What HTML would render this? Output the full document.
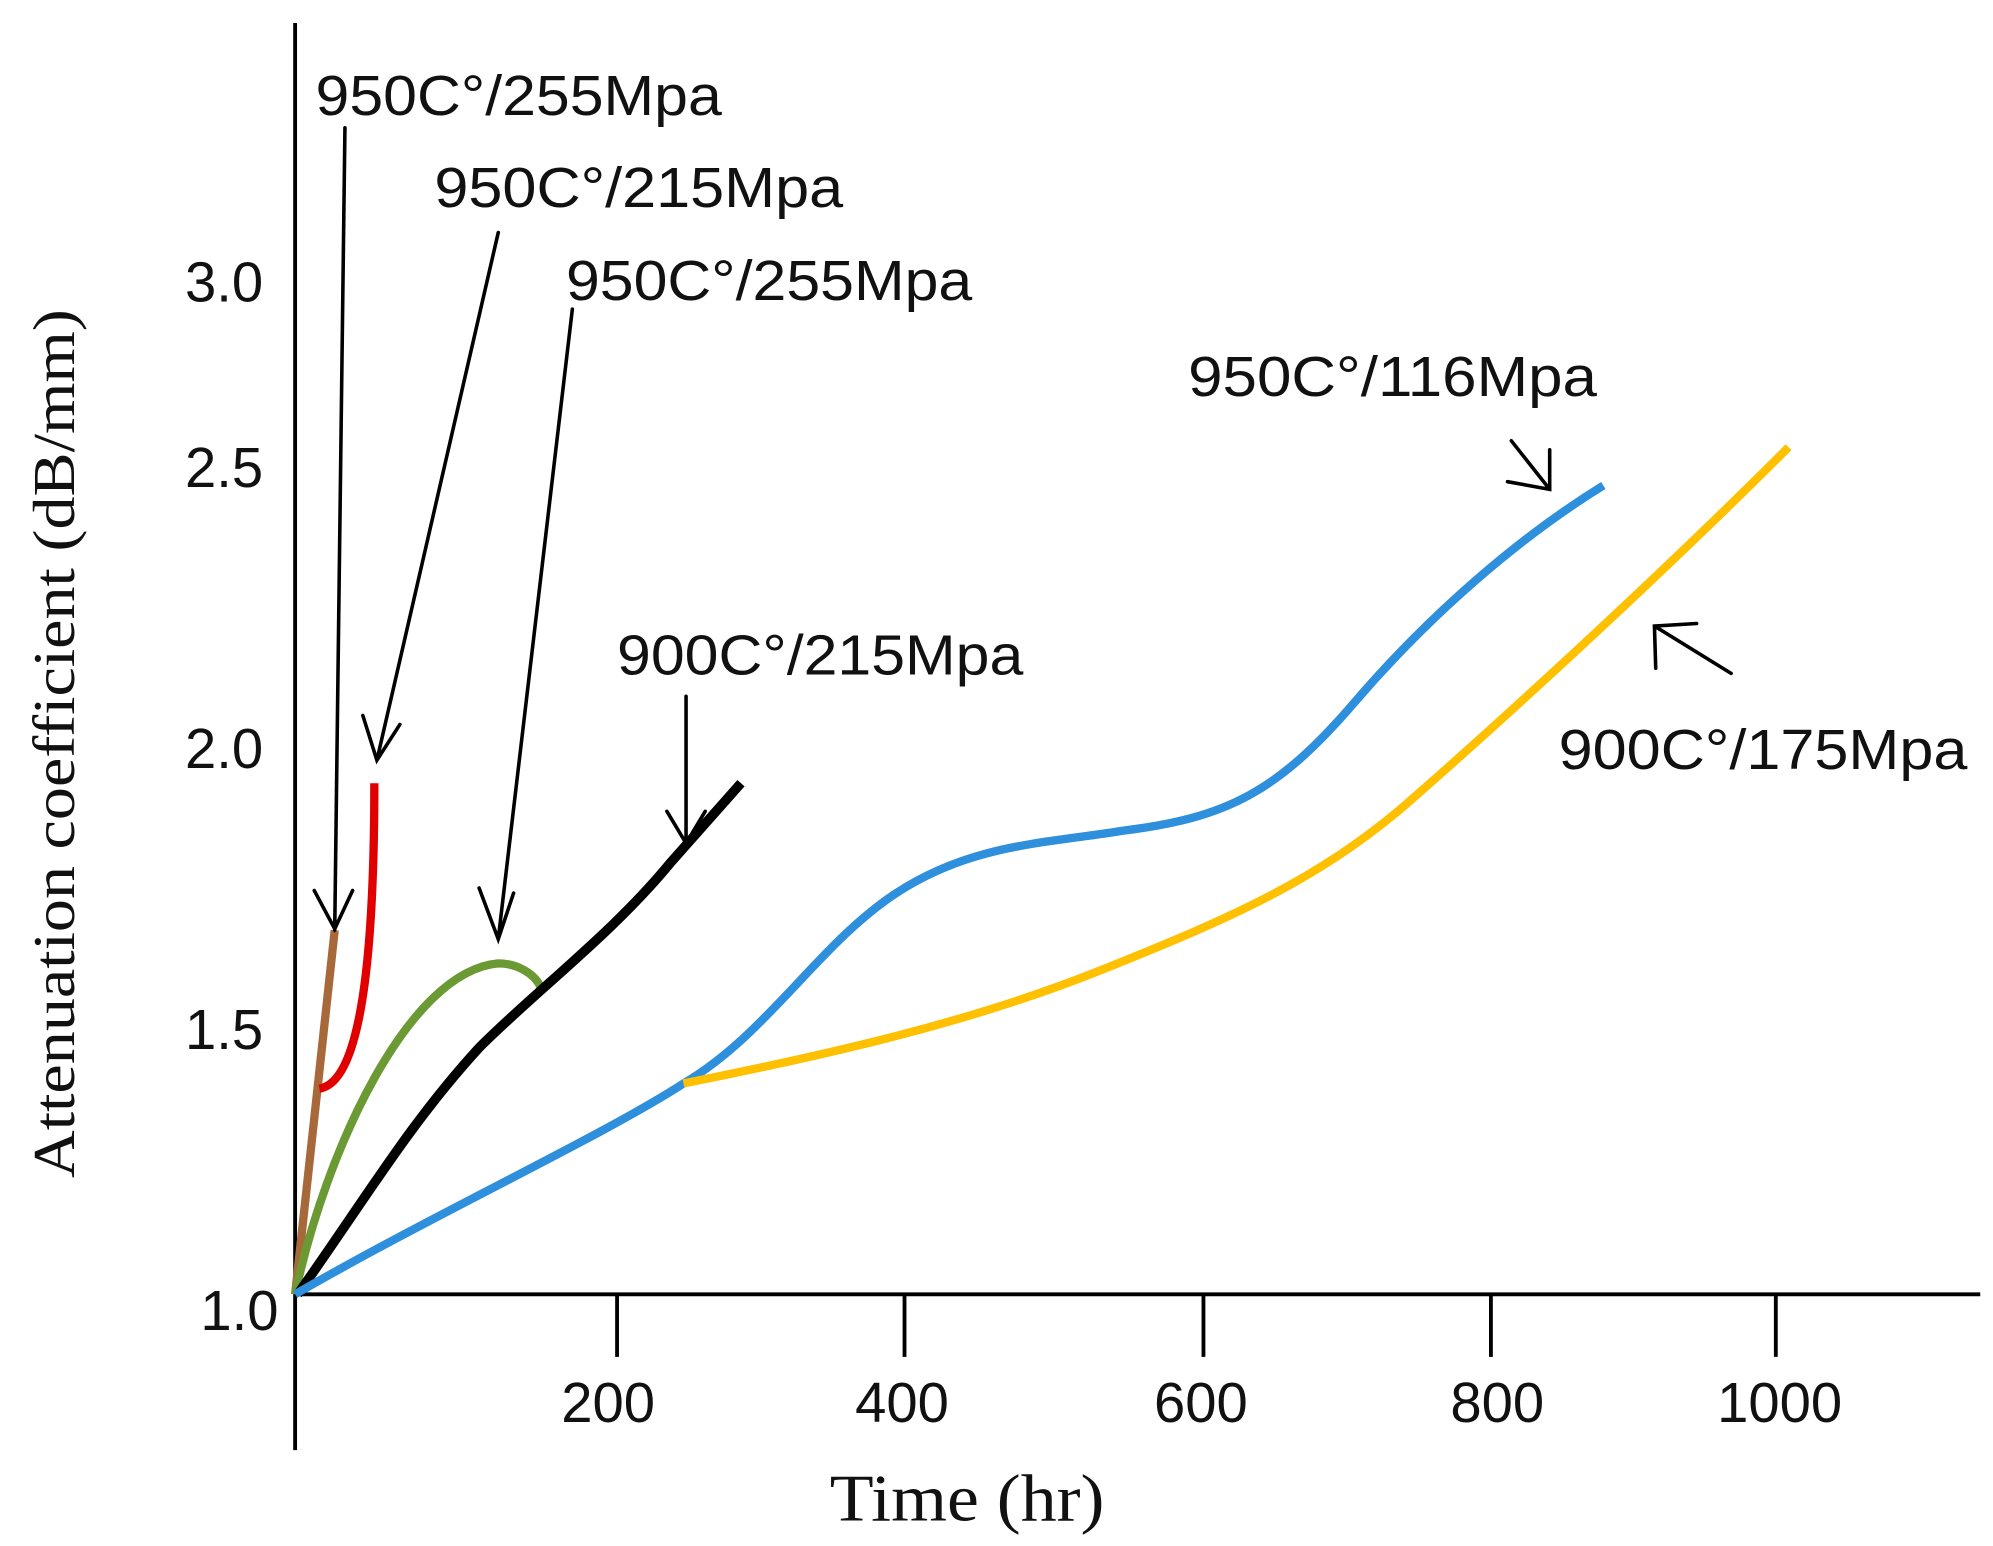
<!DOCTYPE html>
<html><head><meta charset="utf-8"><style>
html,body{margin:0;padding:0;background:#fff;}
svg{display:block;}
.l{font-family:"Liberation Sans",sans-serif;font-size:44px;fill:#111;}
.t{font-family:"Liberation Sans",sans-serif;font-size:44px;fill:#111;}
</style></head><body>
<svg width="1993" height="1546" viewBox="0 0 1560 1210" preserveAspectRatio="none" xmlns="http://www.w3.org/2000/svg">
<rect width="1560" height="1210" fill="#fff"/>
<g stroke="#000" stroke-width="3" fill="none">
<line x1="231" y1="18" x2="231" y2="1135"/>
<line x1="231" y1="1013" x2="1550" y2="1013"/>
<line x1="483" y1="1013" x2="483" y2="1062"/>
<line x1="708" y1="1013" x2="708" y2="1062"/>
<line x1="942" y1="1013" x2="942" y2="1062"/>
<line x1="1167" y1="1013" x2="1167" y2="1062"/>
<line x1="1390" y1="1013" x2="1390" y2="1062"/>
</g>
<g class="t" text-anchor="end">
<text x="206" y="236">3.0</text>
<text x="206" y="381">2.5</text>
<text x="206" y="601">2.0</text>
<text x="206" y="821">1.5</text>
<text x="218" y="1041">1.0</text>
</g>
<g class="t" text-anchor="middle">
<text x="476" y="1113">200</text>
<text x="706" y="1113">400</text>
<text x="940" y="1113">600</text>
<text x="1172" y="1113">800</text>
<text x="1393" y="1113">1000</text>
</g>
<text x="757" y="1190" text-anchor="middle" font-family="Liberation Serif,serif" font-size="52" fill="#111" textLength="215" lengthAdjust="spacingAndGlyphs">Time (hr)</text>
<text transform="translate(58,582) rotate(-90)" text-anchor="middle" font-family="Liberation Serif,serif" font-size="46" fill="#111" textLength="680" lengthAdjust="spacingAndGlyphs">Attenuation coefficient (dB/mm)</text>
<g class="l">
<text x="247" y="90" textLength="318" lengthAdjust="spacingAndGlyphs">950C°/255Mpa</text>
<text x="340" y="162" textLength="320" lengthAdjust="spacingAndGlyphs">950C°/215Mpa</text>
<text x="443" y="235" textLength="318" lengthAdjust="spacingAndGlyphs">950C°/255Mpa</text>
<text x="930" y="310" textLength="320" lengthAdjust="spacingAndGlyphs">950C°/116Mpa</text>
<text x="483" y="528" textLength="318" lengthAdjust="spacingAndGlyphs">900C°/215Mpa</text>
<text x="1220" y="602" textLength="320" lengthAdjust="spacingAndGlyphs">900C°/175Mpa</text>
</g>
<g fill="none" stroke-linecap="butt" stroke-width="6.5" stroke-linejoin="round">
<path d="M231,1013 L262,728" stroke="#a8693a"/>
<path d="M250,852 C275,848 293,790 293,613" stroke="#e00000"/>
<path d="M231,1013 C255,900 320,760 390,754 C405,754 418,762 423,772" stroke="#6b9a35"/>
<path d="M233,1013 C285,940 320,880 375,820 C420,775 480,730 525,675 L580,613" stroke="#000" stroke-width="7.5"/>
<path d="M231,1013 C340,950 470,890 535,848 C600,810 640,740 700,700 C760,660 820,660 880,650 C960,640 1000,620 1060,550 C1120,480 1190,420 1255,380" stroke="#2e8fdc"/>
<path d="M535,848 C650,825 760,800 860,760 C960,720 1030,690 1100,630 C1180,560 1300,450 1400,350" stroke="#ffc000"/>
</g>
<g stroke="#000" stroke-width="2.8" fill="none" stroke-linecap="round" stroke-linejoin="miter">
<path d="M270,100 L262,728 M246,697 L262,727 L276,697"/>
<path d="M390,182 L295,595 M284,560 L295,595 L313,567"/>
<path d="M448,242 L390,735 M375,695 L390,735 L402,699"/>
<path d="M537,545 L537,660 M522,635 L537,660 L552,635"/>
<path d="M1183,345 L1213,383 M1213,352 L1213,383 L1180,377"/>
<path d="M1355,527 L1295,490 M1296,523 L1295,490 L1328,488"/>
</g>
</svg>
</body></html>
